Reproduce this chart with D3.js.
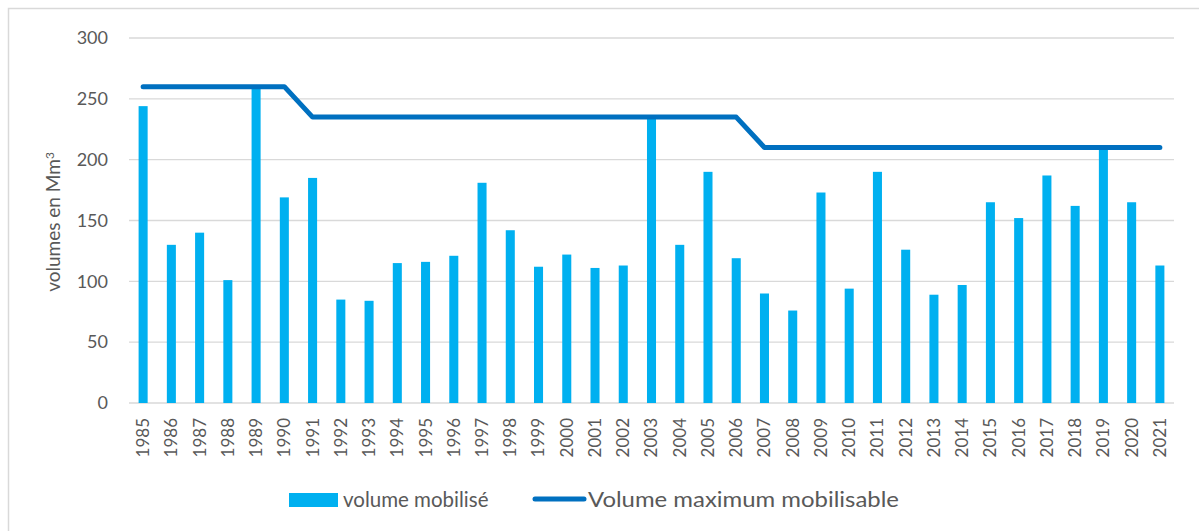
<!DOCTYPE html>
<html>
<head>
<meta charset="utf-8">
<script src="https://cdn.jsdelivr.net/npm/d3@7"></script>
<style>
  body { margin: 0; background: #fff; }
  text { font-family: Lato, "Open Sans", sans-serif; fill: #595959; }
</style>
</head>
<body>
<script>
// data
var years = ["1985","1986","1987","1988","1989","1990","1991","1992","1993","1994",
    "1995","1996","1997","1998","1999","2000","2001","2002","2003","2004",
    "2005","2006","2007","2008","2009","2010","2011","2012","2013","2014",
    "2015","2016","2017","2018","2019","2020","2021"];

var volumeMobilise = [244, 130, 140, 101, 260, 169, 185, 85, 84, 115,
    116, 121, 181, 142, 112, 122, 111, 113, 235, 130,
    190, 119, 90, 76, 173, 94, 190, 126, 89, 97,
    165, 152, 187, 162, 210, 165, 113];

var volumeMax = [260, 260, 260, 260, 260, 260, 235, 235, 235, 235,
    235, 235, 235, 235, 235, 235, 235, 235, 235, 235,
    235, 235, 210, 210, 210, 210, 210, 210, 210, 210,
    210, 210, 210, 210, 210, 210, 210];

var yTicks = [0, 50, 100, 150, 200, 250, 300];

var labelBars = "volume mobilisé",
    labelLine = "Volume maximum mobilisable",
    labelY = "volumes en Mm";

// set up
var outerWidth = 1199,
    outerHeight = 531,
    plotLeft = 129,
    plotRight = 1174,
    plotTop = 38,
    plotBottom = 403;

var svg = d3.select("body")
    .append("svg")
    .attr("width", outerWidth)
    .attr("height", outerHeight);

// chart frame (only top/left edges visible)
svg.append("rect")
    .attr("x", 8.5)
    .attr("y", 8.5)
    .attr("width", outerWidth + 10)
    .attr("height", outerHeight + 10)
    .style("fill", "none")
    .style("stroke", "#d9d9d9")
    .style("stroke-width", 1.5);

var x = d3.scaleBand()
    .domain(years)
    .range([plotLeft, plotRight])
    .paddingInner(0.68)
    .paddingOuter(0.34);

var y = d3.scaleLinear()
    .domain([0, 300])
    .range([plotBottom, plotTop]);

// gridlines
svg.append("g")
    .selectAll("line")
    .data(yTicks)
    .enter()
    .append("line")
    .attr("x1", plotLeft)
    .attr("x2", plotRight)
    .attr("y1", function(d) { return y(d); })
    .attr("y2", function(d) { return y(d); })
    .style("stroke", "#d9d9d9")
    .style("stroke-width", 1.3);

// y axis
var yAxis = d3.axisLeft(y).tickValues(yTicks).tickSize(0).tickPadding(21);
svg.append("g")
    .attr("transform", "translate(" + plotLeft + ",0)")
    .call(yAxis)
    .call(function(g) { g.select(".domain").remove(); })
    .selectAll("text")
    .style("font-size", "18px")
    .style("fill", "#595959")
    .style("font-family", "Lato, sans-serif");

// y axis label
var yl = svg.append("text")
    .attr("transform", "translate(60,222) rotate(-90)")
    .style("text-anchor", "middle")
    .style("font-size", "19px")
    .text(labelY);
yl.append("tspan")
    .attr("dy", "-0.5em")
    .style("font-size", "12px")
    .text("3");

// x axis
var xAxis = d3.axisBottom(x).tickSize(0).tickPadding(0);
var gx = svg.append("g")
    .attr("transform", "translate(0," + plotBottom + ")")
    .call(xAxis);
gx.select(".domain").remove();
gx.selectAll("text")
    .attr("transform", "rotate(-90)")
    .attr("x", -15)
    .attr("y", 0)
    .attr("dy", "0.35em")
    .style("text-anchor", "end")
    .style("font-size", "17px")
    .style("fill", "#595959")
    .style("font-family", "Lato, sans-serif");

// bars
svg.selectAll(".bar")
    .data(years)
    .enter()
    .append("rect")
    .attr("class", "bar")
    .attr("x", function(d) { return x(d); })
    .attr("width", x.bandwidth())
    .attr("y", function(d, i) { return y(volumeMobilise[i]); })
    .attr("height", function(d, i) { return plotBottom - y(volumeMobilise[i]); })
    .style("fill", "#00b0f0");

// max line
var line = d3.line()
    .x(function(d, i) { return x(years[i]) + x.bandwidth() / 2; })
    .y(function(d) { return y(d); });

svg.append("path")
    .datum(volumeMax)
    .attr("d", line)
    .style("fill", "none")
    .style("stroke", "#0070c0")
    .style("stroke-width", 5)
    .style("stroke-linecap", "round")
    .style("stroke-linejoin", "round");

// legend
svg.append("rect")
    .attr("x", 289)
    .attr("y", 493)
    .attr("width", 49)
    .attr("height", 14)
    .style("fill", "#00b0f0");

svg.append("text")
    .attr("x", 343)
    .attr("y", 507)
    .style("font-size", "20.5px")
    .text(labelBars);

svg.append("line")
    .attr("x1", 535)
    .attr("x2", 584)
    .attr("y1", 499)
    .attr("y2", 499)
    .style("stroke", "#0070c0")
    .style("stroke-width", 5)
    .style("stroke-linecap", "round");

svg.append("text")
    .attr("x", 588)
    .attr("y", 507)
    .attr("textLength", 311)
    .attr("lengthAdjust", "spacingAndGlyphs")
    .style("font-size", "20.5px")
    .text(labelLine);
</script>
</body>
</html>
